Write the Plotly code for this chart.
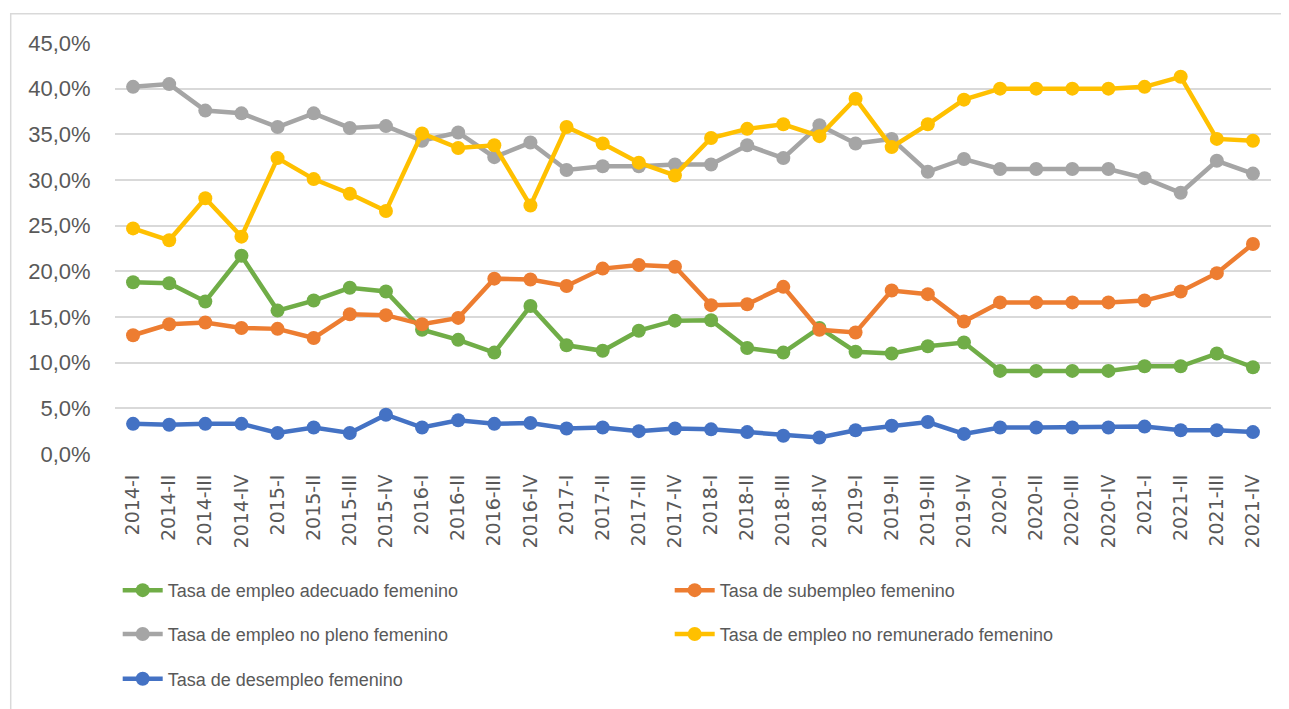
import plotly.graph_objects as go

categories = []
for yr in range(2014, 2022):
    for q in ["I", "II", "III", "IV"]:
        categories.append(f"{yr}-{q}")

adecuado = [18.8, 18.7, 16.7, 21.7, 15.7, 16.8, 18.2, 17.8, 13.6, 12.5, 11.1, 16.2,
            11.9, 11.3, 13.5, 14.6, 14.65, 11.6, 11.1, 13.8, 11.2, 11.0, 11.8, 12.2,
            9.1, 9.1, 9.1, 9.1, 9.6, 9.6, 11.0, 9.5]
subempleo = [13.0, 14.2, 14.4, 13.8, 13.7, 12.7, 15.3, 15.2, 14.2, 14.9, 19.2, 19.1,
             18.4, 20.3, 20.7, 20.5, 16.3, 16.4, 18.3, 13.6, 13.3, 17.9, 17.5, 14.5,
             16.6, 16.6, 16.6, 16.6, 16.8, 17.8, 19.8, 23.0]
no_pleno = [40.2, 40.5, 37.6, 37.3, 35.8, 37.3, 35.7, 35.9, 34.3, 35.2, 32.5, 34.1,
            31.1, 31.5, 31.5, 31.7, 31.7, 33.8, 32.4, 36.0, 34.0, 34.5, 30.9, 32.3,
            31.2, 31.2, 31.2, 31.2, 30.2, 28.6, 32.1, 30.7]
no_remunerado = [24.7, 23.4, 28.0, 23.8, 32.4, 30.1, 28.5, 26.6, 35.1, 33.5, 33.8, 27.2,
                 35.8, 34.0, 31.9, 30.5, 34.6, 35.6, 36.1, 34.8, 38.9, 33.6, 36.1, 38.8,
                 40.0, 40.0, 40.0, 40.0, 40.2, 41.3, 34.5, 34.3]
desempleo = [3.3, 3.2, 3.3, 3.3, 2.3, 2.9, 2.3, 4.3, 2.9, 3.7, 3.3, 3.4,
             2.8, 2.9, 2.5, 2.8, 2.7, 2.4, 2.0, 1.8, 2.6, 3.1, 3.5, 2.2,
             2.9, 2.9, 2.9, 2.9, 3.0, 2.6, 2.6, 2.4]

series = [
    ("Tasa de empleo adecuado femenino", adecuado, "#70AD47", "legend"),
    ("Tasa de subempleo femenino", subempleo, "#ED7D31", "legend"),
    ("Tasa de empleo no pleno femenino", no_pleno, "#A5A5A5", "legend2"),
    ("Tasa de empleo no remunerado femenino", no_remunerado, "#FFC000", "legend2"),
    ("Tasa de desempleo femenino", desempleo, "#4472C4", "legend3"),
]

FONT = "Liberation Sans, Arial, sans-serif"
TXT = "#595959"

fig = go.Figure()
for name, vals, col, lg in series:
    fig.add_trace(go.Scatter(
        x=categories, y=vals, name=name, mode="lines+markers",
        line=dict(color=col, width=4.5),
        marker=dict(color=col, size=14),
        legend=lg,
    ))

OFF = 8  # page body margin
W, H = 1289 - OFF, 709 - OFF
L, R, T, B = 115.3 - OFF, 1271.4 - OFF, 43.3 - OFF, 456.0 - OFF
pw, ph = R - L, B - T

def px(x):
    return (x - OFF - L) / pw

def py(y):
    return (B - (y - OFF)) / ph

leg_common = dict(orientation="h", xanchor="left", yanchor="middle",
                  font=dict(family=FONT, size=18, color=TXT),
                  entrywidth=497, entrywidthmode="pixels",
                  bgcolor="rgba(0,0,0,0)", itemwidth=40, traceorder="normal")

fig.update_layout(
    width=W, height=H,
    margin=dict(l=L, r=W - R, t=T, b=H - B, pad=0),
    paper_bgcolor="white", plot_bgcolor="white",
    separators=",.",
    font=dict(family=FONT, size=17, color=TXT),
    legend=dict(x=px(118), y=py(593), **leg_common),
    legend2=dict(x=px(118), y=py(637), **leg_common),
    legend3=dict(x=px(118), y=py(682), **leg_common),
    xaxis=dict(type="category", tickangle=-90, showgrid=False, zeroline=False,
               showline=False, ticks="outside", ticklen=12, tickcolor="rgba(0,0,0,0)",
               tickfont=dict(family="DejaVu Sans, sans-serif", size=19, color=TXT),
               range=[-0.5, len(categories) - 0.5], fixedrange=True),
    yaxis=dict(range=[0, 45], dtick=5, tickformat=".1f", ticksuffix="%",
               showgrid=True, gridcolor="#D9D9D9", gridwidth=1.5,
               zeroline=False, showline=False, ticks="outside", ticklen=19,
               tickcolor="rgba(0,0,0,0)",
               tickfont=dict(family=FONT, size=22, color=TXT)),
    shapes=[dict(type="rect", xref="paper", yref="paper",
                 x0=px(11), x1=px(1300), y0=py(730), y1=py(14),
                 line=dict(color="#D9D9D9", width=1.5), fillcolor="rgba(0,0,0,0)",
                 layer="below")],
)

fig.write_html("out.html")
